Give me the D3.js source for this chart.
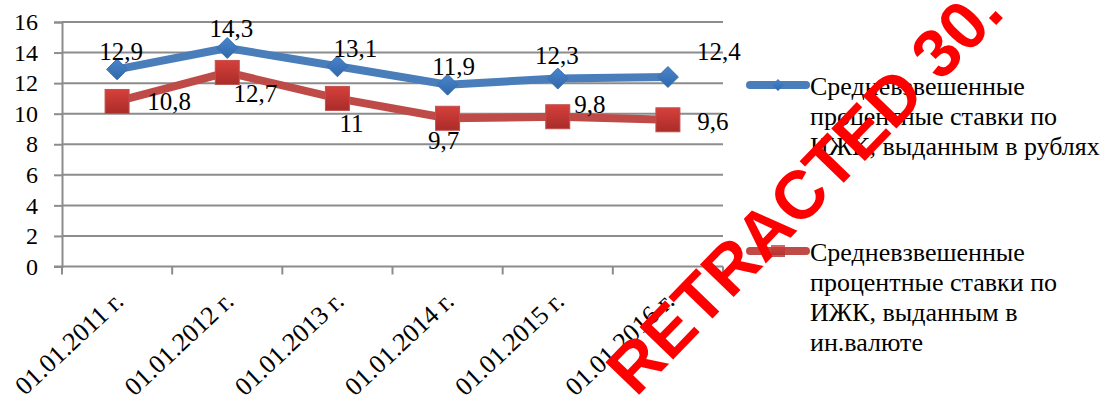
<!DOCTYPE html>
<html>
<head>
<meta charset="utf-8">
<script src="https://cdn.jsdelivr.net/npm/d3@7"></script>
</head>
<body style="margin:0">
<div id="chart"></div>
<script>
// data
const categories = ["01.01.2011 г.", "01.01.2012 г.", "01.01.2013 г.", "01.01.2014 г.", "01.01.2015 г.", "01.01.2016 г."];
const rubValues = [12.9, 14.3, 13.1, 11.9, 12.3, 12.4];
const fxValues = [10.8, 12.7, 11, 9.7, 9.8, 9.6];
const rubLabels = ["12,9", "14,3", "13,1", "11,9", "12,3", "12,4"];
const fxLabels = ["10,8", "12,7", "11", "9,7", "9,8", "9,6"];
const yTicks = [0, 2, 4, 6, 8, 10, 12, 14, 16];
const legendRub = ["Средневзвешенные", "процентные ставки по", "ИЖК, выданным в рублях"];
const legendFx = ["Средневзвешенные", "процентные ставки по", "ИЖК, выданным в", "ин.валюте"];

// hand-placed data label offsets (as in the original chart)
const rubLabelOff = [[4, -9], [4, -11], [18, -9], [6, -10], [-1, -15], [51, -17]];
const fxLabelOff = [[52, 9], [28, 30], [14, 34], [-4, 31], [32, -4], [45, 10]];

let w = 1109;
let h = 401;

let svg = d3.select("#chart").append("svg")
  .attr("width", w)
  .attr("height", h)
  .attr("font-family", "Liberation Serif");

let defs = svg.append("defs");
let gB = defs.append("linearGradient").attr("id", "gBlue").attr("x1", 0).attr("y1", 0).attr("x2", 0).attr("y2", 1);
gB.append("stop").attr("offset", "0%").attr("stop-color", "#4a85cc");
gB.append("stop").attr("offset", "100%").attr("stop-color", "#2f67aa");
let gR = defs.append("linearGradient").attr("id", "gRed").attr("x1", 0).attr("y1", 0).attr("x2", 0).attr("y2", 1);
gR.append("stop").attr("offset", "0%").attr("stop-color", "#d6403b");
gR.append("stop").attr("offset", "100%").attr("stop-color", "#a92c29");

// scales
let x = d3.scaleBand().domain(categories).range([62, 723]);
let y = d3.scaleLinear().domain([0, 16]).range([266.5, 22]);
let cx = d => x(d) + x.bandwidth() / 2;

// grid
svg.append("g")
  .selectAll("line")
  .data(yTicks.filter(d => d > 0))
  .enter()
  .append("line")
  .attr("x1", 62).attr("x2", 723)
  .attr("y1", d => y(d)).attr("y2", d => y(d))
  .attr("stroke", "#8c8c8c")
  .attr("stroke-width", 2);

// y axis
let yAxis = svg.append("g")
  .attr("transform", "translate(62,0)")
  .call(d3.axisLeft(y).tickValues(yTicks).tickSize(8).tickPadding(16).tickFormat(d3.format("d")));
yAxis.attr("font-family", null).attr("font-size", 24);
yAxis.select(".domain").attr("stroke", "#8c8c8c").attr("stroke-width", 2);
yAxis.selectAll(".tick line").attr("stroke", "#8c8c8c").attr("stroke-width", 2);
yAxis.selectAll("text").attr("fill", "#000");

// x axis baseline + boundary ticks
let xg = svg.append("g");
xg.append("line")
  .attr("x1", 54).attr("x2", 723)
  .attr("y1", y(0)).attr("y2", y(0))
  .attr("stroke", "#8c8c8c").attr("stroke-width", 2);
xg.selectAll(".xt")
  .data(categories.concat(["end"]))
  .enter()
  .append("line")
  .attr("x1", (d, i) => i < categories.length ? x(d) : x.range()[1])
  .attr("x2", (d, i) => i < categories.length ? x(d) : x.range()[1])
  .attr("y1", y(0)).attr("y2", y(0) + 8)
  .attr("stroke", "#8c8c8c").attr("stroke-width", 2);
xg.selectAll(".xl")
  .data(categories)
  .enter()
  .append("text")
  .attr("text-anchor", "end")
  .attr("transform", d => `translate(${cx(d) + 8},${303}) rotate(-43)`)
  .attr("font-size", 26)
  .text(d => d);

// lines
let line = d3.line().x(d => cx(d.c)).y(d => y(d.v));
let rubData = categories.map((c, i) => ({ c: c, v: rubValues[i] }));
let fxData = categories.map((c, i) => ({ c: c, v: fxValues[i] }));

svg.append("path")
  .datum(fxData)
  .attr("d", line)
  .attr("fill", "none")
  .attr("stroke", "#be4b48")
  .attr("stroke-width", 8)
  .attr("stroke-linejoin", "round")
  .attr("stroke-linecap", "round");

svg.append("path")
  .datum(rubData)
  .attr("d", line)
  .attr("fill", "none")
  .attr("stroke", "#4a7ebb")
  .attr("stroke-width", 8)
  .attr("stroke-linejoin", "round")
  .attr("stroke-linecap", "round");

// markers
svg.append("g")
  .selectAll("rect")
  .data(fxData)
  .enter()
  .append("rect")
  .attr("x", d => cx(d.c) - 12)
  .attr("y", d => y(d.v) - 12)
  .attr("width", 24).attr("height", 24)
  .attr("fill", "url(#gRed)")
  .attr("stroke", "#c0504d")
  .attr("stroke-width", 1);

svg.append("g")
  .selectAll("path")
  .data(rubData)
  .enter()
  .append("path")
  .attr("d", d3.symbol().type(d3.symbolDiamond2).size(280))
  .attr("transform", d => `translate(${cx(d.c)},${y(d.v)})`)
  .attr("fill", "url(#gBlue)")
  .attr("stroke", "#3b6fae")
  .attr("stroke-width", 1);

// data labels
svg.append("g")
  .selectAll("text")
  .data(rubData)
  .enter()
  .append("text")
  .attr("text-anchor", "middle")
  .attr("x", (d, i) => cx(d.c) + rubLabelOff[i][0])
  .attr("y", (d, i) => y(d.v) + rubLabelOff[i][1])
  .attr("font-size", 25)
  .text((d, i) => rubLabels[i]);

svg.append("g")
  .selectAll("text")
  .data(fxData)
  .enter()
  .append("text")
  .attr("text-anchor", "middle")
  .attr("x", (d, i) => cx(d.c) + fxLabelOff[i][0])
  .attr("y", (d, i) => y(d.v) + fxLabelOff[i][1])
  .attr("font-size", 25)
  .text((d, i) => fxLabels[i]);

// legend
function legendItem(ly, color, marker, lines) {
  let g = svg.append("g");
  g.append("line")
    .attr("x1", 750).attr("x2", 806)
    .attr("y1", ly).attr("y2", ly)
    .attr("stroke", color).attr("stroke-width", 8).attr("stroke-linecap", "round");
  if (marker === "diamond") {
    g.append("path")
      .attr("d", d3.symbol().type(d3.symbolDiamond2).size(90))
      .attr("transform", `translate(778,${ly})`)
      .attr("fill", "url(#gBlue)");
  } else {
    g.append("rect")
      .attr("x", 771).attr("y", ly - 6).attr("width", 14).attr("height", 12)
      .attr("fill", "url(#gRed)").attr("opacity", 0.8);
  }
  g.selectAll("text")
    .data(lines)
    .enter()
    .append("text")
    .attr("x", 810)
    .attr("y", (d, i) => ly + 10 + i * 30)
    .attr("font-size", 26)
    .text(d => d);
}
legendItem(85, "#4a7ebb", "diamond", legendRub);
legendItem(251, "#be4b48", "square", legendFx);

// retraction stamp
svg.append("text")
  .attr("transform", "translate(636,398) rotate(-46)")
  .attr("font-family", "Liberation Sans")
  .attr("font-weight", "bold")
  .attr("font-size", 68)
  .attr("fill", "#ff0000")
  .text("RETRACTED 30.");
</script>
</body>
</html>
